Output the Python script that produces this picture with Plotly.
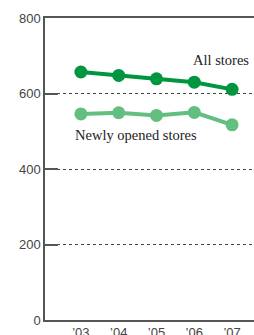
import plotly.graph_objects as go

years = ["\u201903", "\u201904", "\u201905", "\u201906", "\u201907"]
all_stores = [657, 648, 639, 630, 611]
new_stores = [546, 549, 542, 550, 517]
y_ticks = [0, 200, 400, 600, 800]

dark_green = "#00953f"
light_green = "#62bf80"

x_idx = list(range(len(years)))

fig = go.Figure()
fig.add_trace(go.Scatter(
    x=x_idx, y=new_stores, mode="lines+markers",
    line=dict(color=light_green, width=4),
    marker=dict(color=light_green, size=13),
    showlegend=False, hoverinfo="skip"))
fig.add_trace(go.Scatter(
    x=x_idx, y=all_stores, mode="lines+markers",
    line=dict(color=dark_green, width=4),
    marker=dict(color=dark_green, size=13),
    showlegend=False, hoverinfo="skip"))

fig.add_annotation(x=3.70, y=689, xref="x", yref="y", text="All stores",
                   showarrow=False, font=dict(family="Liberation Serif", size=14.5, color="#222"))
fig.add_annotation(x=1.46, y=490, xref="x", yref="y", text="Newly opened stores",
                   showarrow=False, font=dict(family="Liberation Serif", size=14.5, color="#222"))

fig.update_layout(
    width=254, height=335,
    margin=dict(l=45, r=0, t=18, b=15, autoexpand=False),
    paper_bgcolor="white", plot_bgcolor="white",
    xaxis=dict(
        range=[-0.95, 4.58], tickmode="array", tickvals=x_idx, ticktext=years,
        showgrid=False, zeroline=False, showline=True, mirror=True,
        linecolor="#555", linewidth=1.5, ticks="", automargin=False,
        tickfont=dict(family="Liberation Sans", size=13, color="#444"),
    ),
    yaxis=dict(
        range=[0, 800], tickmode="array", tickvals=y_ticks, automargin=False,
        showgrid=True, gridcolor="#444", griddash="dot", gridwidth=1,
        zeroline=False, showline=True, linecolor="#555", linewidth=1.5,
        ticks="inside", ticklen=13, tickcolor="#555", tickwidth=1.5,
        tickfont=dict(family="Liberation Sans", size=13, color="#444"),
    ),
)

fig.write_html("out.html", config={"displayModeBar": False},
               post_script="document.body.style.margin='0';document.body.style.overflow='hidden';")
